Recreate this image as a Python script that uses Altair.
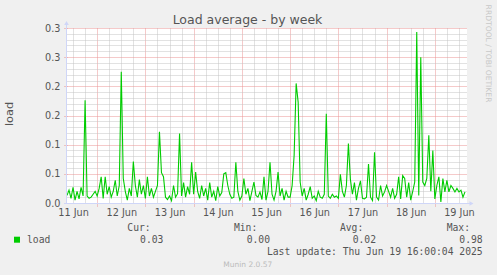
import altair as alt
import pandas as pd

# ---- data (hourly load average) ----
LOAD = [
    0.013, 0.022, 0.008, 0.027, 0.005, 0.020, 0.007, 0.027, 0.012, 0.176,
    0.012, 0.008, 0.010, 0.015, 0.020, 0.012, 0.025, 0.045, 0.008, 0.045,
    0.015, 0.028, 0.010, 0.020, 0.039, 0.012, 0.030, 0.225, 0.042, 0.020,
    0.005, 0.025, 0.012, 0.071, 0.030, 0.010, 0.040, 0.015, 0.030, 0.008,
    0.045, 0.012, 0.025, 0.010, 0.020, 0.030, 0.122, 0.052, 0.045, 0.010,
    0.006, 0.012, 0.004, 0.030, 0.010, 0.016, 0.119, 0.012, 0.035, 0.010,
    0.028, 0.015, 0.070, 0.015, 0.053, 0.020, 0.008, 0.030, 0.012, 0.025,
    0.005, 0.035, 0.010, 0.020, 0.004, 0.028, 0.012, 0.018, 0.050, 0.052,
    0.030, 0.015, 0.008, 0.010, 0.070, 0.020, 0.005, 0.012, 0.042, 0.015,
    0.025, 0.004, 0.020, 0.036, 0.013, 0.010, 0.019, 0.006, 0.045, 0.005,
    0.020, 0.070, 0.015, 0.005, 0.020, 0.053, 0.012, 0.025, 0.005, 0.020,
    0.010, 0.010, 0.030, 0.082, 0.205, 0.173, 0.036, 0.012, 0.025, 0.005,
    0.015, 0.028, 0.008, 0.012, 0.004, 0.020, 0.010, 0.008, 0.015, 0.153,
    0.012, 0.008, 0.015, 0.010, 0.012, 0.008, 0.049, 0.020, 0.010, 0.030,
    0.102, 0.040, 0.015, 0.035, 0.005, 0.025, 0.038, 0.008, 0.007, 0.010,
    0.067, 0.010, 0.004, 0.087, 0.010, 0.005, 0.030, 0.012, 0.019, 0.030,
    0.020, 0.010, 0.025, 0.008, 0.015, 0.045, 0.007, 0.047, 0.042, 0.010,
    0.035, 0.005, 0.020, 0.036, 0.293, 0.013, 0.250, 0.036, 0.030, 0.042,
    0.116, 0.020, 0.090, 0.007, 0.030, 0.045, 0.002, 0.042, 0.019, 0.039,
    0.019, 0.030, 0.025, 0.019, 0.025, 0.019, 0.022, 0.010, 0.019,
]
FIRST_SAMPLE = "2025-06-11 09:00"
TITLE = "Load average - by week"
Y_TITLE = "load"
SERIES = "load"
STAT_NAMES = ["Cur:", "Min:", "Avg:", "Max:"]
STAT_VALUES = [0.03, 0.00, 0.02, 0.98]
LAST_UPDATE = "Last update: Thu Jun 19 16:00:04 2025"
WATERMARK = "RRDTOOL / TOBI OETIKER"
FOOTER = "Munin 2.0.57"
Y_TICKS = [round(i * 0.01, 2) for i in range(31)]
X_TICK_TIMES = pd.date_range("2025-06-11 12:00", "2025-06-19 12:00", freq="6h")

# ---- styles ----
FONT = "#555555"
AXIS_C = "#CFD6F8"
RED = "#EB9595"
GREY = "#C4C4C4"
CLEAR = "rgba(0,0,0,0)"
GREEN = "#00CC00"
W, H = 400, 175

times = pd.date_range(FIRST_SAMPLE, periods=len(LOAD), freq="h")
df = pd.DataFrame({"time": times, "load": LOAD})

x_vals = [alt.DateTime(year=t.year, month=t.month, date=t.day, hours=t.hour) for t in X_TICK_TIMES]
x_dom = [alt.DateTime(year=2025, month=6, date=11, hours=9),
         alt.DateTime(year=2025, month=6, date=19, hours=16)]

is_midnight = "hours(datum.value) == 0"
is_major_y = "abs(datum.value*20 - round(datum.value*20)) < 0.01"

x_axis = alt.Axis(
    values=x_vals, title=None, domain=False,
    grid=True, gridColor=alt.condition(is_midnight, alt.value(RED), alt.value(GREY)),
    gridDash=[1, 1], gridWidth=1,
    ticks=True, tickSize=3, tickDash=[1, 1],
    tickColor=alt.condition(is_midnight, alt.value(RED), alt.value(CLEAR)),
    labelExpr="hours(datum.value) == 12 ? timeFormat(datum.value, '%d %b') : ''",
    labelFont="DejaVu Sans", labelFontSize=9.7, labelColor=FONT,
    labelPadding=9, labelBaseline="alphabetic",
    labelOverlap=False, labelFlush=False, labelBound=False,
)
y_axis = alt.Axis(
    values=Y_TICKS, title=None, domain=False,
    grid=True, gridColor=alt.condition(is_major_y, alt.value(RED), alt.value(GREY)),
    gridDash=[1, 1], gridWidth=1,
    ticks=True, tickSize=3, tickDash=[1, 1],
    tickColor=alt.condition(is_major_y, alt.value(RED), alt.value(CLEAR)),
    labelExpr=is_major_y + " ? (datum.value < 0.01 ? '0.0' : format(ceil(datum.value*10 - 0.01)/10, '.1f')) : ''",
    labelFont="DejaVu Sans", labelFontSize=9.7, labelColor=FONT,
    labelPadding=4, labelBaseline="middle",
    labelOverlap=False, labelFlush=False, labelBound=False,
)

line = alt.Chart(df).mark_line(color=GREEN, strokeWidth=1.1, clip=True).encode(
    x=alt.X("time:T", scale=alt.Scale(domain=x_dom), axis=x_axis),
    y=alt.Y("load:Q", scale=alt.Scale(domain=[0, 0.3], nice=False, zero=True), axis=y_axis),
)

one = pd.DataFrame({"a": [0]})


def rule(**enc):
    return alt.Chart(one).mark_rule(color=AXIS_C, strokeWidth=1).encode(**enc)


def arrow(shape, x, y):
    return alt.Chart(one).mark_point(shape=shape, filled=True, size=22, color=AXIS_C, opacity=1).encode(
        x=alt.value(x), y=alt.value(y))


def txt(s, x, y, size=9.7, font="DejaVu Sans", color=FONT, align="left", baseline="alphabetic", angle=0):
    kw = dict(font=font, fontSize=size, color=color, align=align, baseline=baseline)
    if angle:
        kw["angle"] = angle
    return alt.Chart(pd.DataFrame({"t": [s]})).mark_text(**kw).encode(
        text="t:N", x=alt.value(x), y=alt.value(y))


axis_layers = [
    rule(x=alt.value(-0.5), y=alt.value(H + 1), y2=alt.value(-4)),
    rule(y=alt.value(H + 0.5), x=alt.value(-3), x2=alt.value(W + 3)),
    arrow("triangle-up", -0.5, -5),
    arrow("triangle-right", W + 4.5, H + 0.5),
]

MONO = "DejaVu Sans Mono"
stat_right = [83.7, 190.3, 296.3, 403.0]
texts = [
    txt(TITLE, 180.5, -4, size=12.5, align="center"),
    txt(Y_TITLE, -57.5, 86, size=11.3, align="center", baseline="middle", angle=270),
    txt(WATERMARK, 420.7, 25.5, size=7.6, color="#C8C8C8", align="center", baseline="middle", angle=90),
    txt(SERIES, -40, 215.3, font=MONO),
    txt(LAST_UPDATE, 415.7, 227, font=MONO, align="right"),
    txt(FOOTER, 180.8, 238.5, size=7.5, color="#BBBBBB", align="center"),
]
for name, val, xr in zip(STAT_NAMES, STAT_VALUES, stat_right):
    texts.append(txt(name, xr, 203, font=MONO, align="right"))
    texts.append(txt(f"{val:.2f}", xr + 12.7, 215.3, font=MONO, align="right"))

swatch = alt.Chart(one).mark_square(size=36, color=GREEN, opacity=1).encode(
    x=alt.value(-50), y=alt.value(211.7))

chart = alt.layer(*axis_layers, line, swatch, *texts).properties(
    width=W, height=H,
    autosize="none",
    padding={"left": 67, "top": 28, "right": 30, "bottom": 72},
    background="#F0F0F0",
).configure_view(fill="white", strokeWidth=0)

chart.save("out.html", embed_options={"renderer": "svg", "actions": False})
